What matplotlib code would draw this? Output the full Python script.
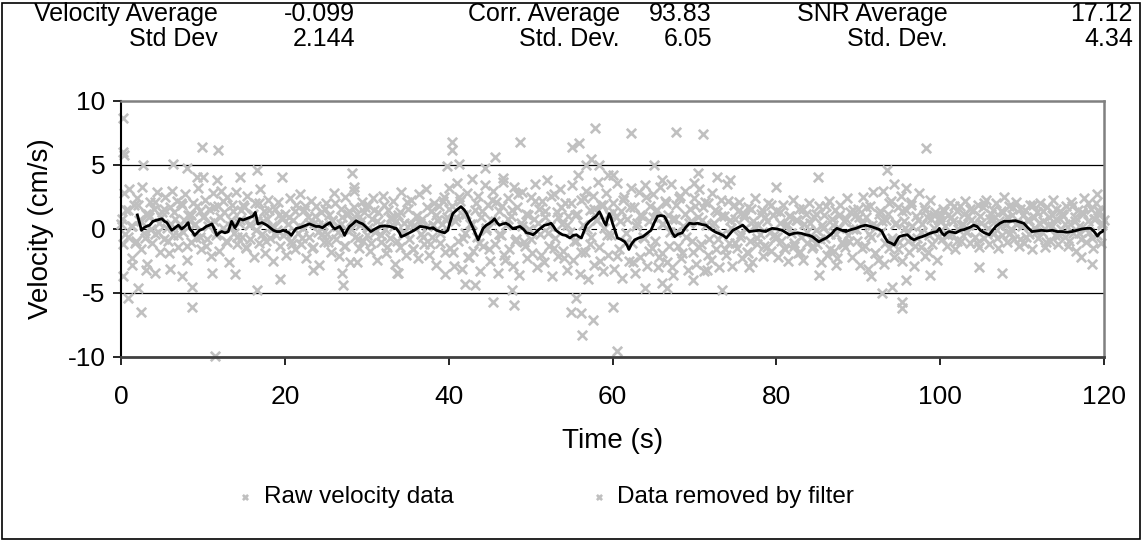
import numpy as np
import matplotlib
matplotlib.use("Agg")
import matplotlib.pyplot as plt
from matplotlib.patches import Rectangle

plt.rcParams['font.family'] = ['Liberation Sans', 'DejaVu Sans']
plt.rcParams['axes.unicode_minus'] = False

# ---------------- data ----------------
raw_dt = 0.2  # sampling interval of raw velocity (s)
raw_v = [
    0.4, -1.2, 2.8, 1.5, -0.6, 3.1, 0.2, -2.3, 1.9, -0.9, 2.4, 0.7, -1.6, 3.3, -0.3, 1.2, -2.7, 0.9, 2.1, -1.1, 1.6, -0.4, 2.9, 0.5, -1.8,
    1.3, -0.8, 2.5, 0.1, -1.9, 1.7, 3.0, -0.5, 0.8, 2.2, -1.4, 0.3, 1.9, -0.2, 2.7, -2.4, 1.1, 0.6, -1.0, 2.0, 0.4, -0.7, 3.2, 1.4, -1.6,
    0.9, 2.3, -1.3, 0.2, 1.6, -2.1, 2.8, 0.6, -0.5, 1.8, -1.7, 3.0, 0.1, 1.3, -0.9, 2.5, -2.6, 0.7, 1.9, -0.3, 2.9, -1.2, 0.5, 1.5, -0.6,
    1.7, -1.5, 2.6, 0.3, -0.8, 1.1, -2.2, 2.0, 0.6, -1.1, 3.1, -0.4, 1.4, -1.9, 0.8, 2.3, -0.7, 0.2, -2.5, 1.6, -0.1, 2.1, -1.3, 0.9, -0.5,
    1.2, -2.0, 0.4, 2.4, -0.9, 0.7, -1.6, 1.9, -0.3, 2.7, -1.2, 0.1, 1.5, -2.3, 0.9, -0.6, 2.2, -1.4, 0.5, 1.8, -0.2, -2.8, 1.3, 0.3, -1.0,
    2.0, -0.4, 1.1, -1.8, 0.6, 2.8, -0.8, 0.2, -2.1, 1.6, 0.9, -1.3, 2.5, -0.1, 1.4, -2.6, 0.7, 3.0, -0.6, 1.2, -1.5, 0.3, 2.1, -0.9, 1.7,
    -0.5, 1.9, -1.7, 0.8, 2.4, -0.2, -2.4, 1.3, 0.4, -1.0, 2.6, 0.0, -1.9, 1.5, -0.7, 0.9, 2.2, -2.7, 0.6, 1.1, -1.4, 2.9, -0.3, 0.5, -2.0,
    1.6, -0.8, 2.3, -1.6, 0.3, 1.0, -2.3, 2.7, -0.4, 0.8, -1.2, 3.1, 0.2, -2.0, 1.4, -0.6, 2.0, -2.8, 0.7, 1.8, -1.1, 0.4, 2.5, -1.8, 0.9,
    3.2, -1.5, 1.8, -2.9, 0.6, 3.6, -0.9, 2.2, -3.1, 1.1, -0.3, 2.8, -2.2, 0.4, 3.9, -1.7, 1.5, -0.6, 2.6, -3.3, 0.9, -1.3, 3.4, -0.1, 1.9,
    -2.5, 0.7, 3.0, -1.2, 2.1, -3.4, 1.4, -0.5, 3.7, -2.0, 0.3, 2.4, -1.6, 1.0, -2.9, 3.3, -0.8, 1.7, -3.6, 0.5, 2.9, -1.0, 1.2, -2.3, 0.0,
    2.5, -1.9, 0.8, 3.5, -3.0, 1.6, -0.4, 2.2, -2.6, 0.9, 3.8, -1.3, 0.2, -3.7, 2.7, -0.7, 1.3, -2.1, 3.1, 0.4, -1.7, 2.0, -3.2, 1.0, -0.2,
    3.4, -2.4, 1.1, -0.9, 4.2, -3.5, 2.3, 0.3, -1.8, 3.0, -3.9, 1.5, -0.6, 2.6, -2.8, 0.7, 3.7, -1.4, 1.9, -3.3, 0.1, 2.8, -2.0, 1.2, -0.5,
    2.0, -3.1, 0.9, 3.6, -1.6, 1.4, -3.8, 2.5, -0.3, 0.8, -2.5, 3.2, -1.1, 1.7, -3.4, 0.5, 2.9, -2.2, 1.0, -0.7, 3.4, -2.9, 0.6, 1.8, -1.5,
    2.7, -0.9, 1.5, -3.0, 3.3, -1.9, 0.4, 2.2, -2.6, 1.1, -0.2, 3.5, -3.6, 0.8, 1.9, -1.3, 2.6, -2.3, 0.2, 3.0, -0.6, -3.2, 1.6, 0.6, -1.8,
    2.4, -2.7, 0.9, 3.1, -1.2, 1.7, -3.3, 0.3, 2.0, -0.8, -2.4, 2.8, 0.5, -1.6, 1.3, -3.0, 2.3, -0.4, 1.0, -2.0, 3.5, -1.1, 0.7, -2.9, 1.9,
    0.8, -1.5, 2.1, -0.6, -2.3, 1.2, 0.1, -1.8, 1.7, -0.9, -2.6, 0.6, 2.4, -1.2, 0.3, -0.4, 1.5, -2.1, 0.9, -1.4, 2.0, -0.2, -1.7, 1.1, -0.7,
    1.4, -2.2, 0.5, -0.9, 1.9, -1.6, 0.2, -2.5, 1.0, -0.3, 2.3, -1.3, 0.7, -1.9, 1.6, -0.6, -2.4, 0.4, 1.2, -1.1, 2.0, -0.8, -1.5, 0.9, -0.1,
    -1.2, 1.8, -2.6, 0.3, 1.1, -0.7, -2.0, 2.2, -0.4, 0.8, -1.7, 1.5, -2.3, 0.1, 1.9, -1.0, 0.6, -1.4, 2.4, -0.5, 1.3, -2.2, 0.0, 1.0, -0.9,
    1.6, -2.8, 0.4, 2.5, -1.3, 0.9, -3.1, 1.8, -0.6, 2.9, -1.9, 0.2, -2.4, 1.4, -0.2, 3.0, -2.7, 0.7, 1.2, -1.5, 2.2, -0.9, -2.2, 0.5, 1.7,
    -1.0, 2.6, -2.5, 0.6, 1.5, -0.3, -1.8, 2.1, 0.2, -2.9, 1.0, -0.7, 2.8, -1.4, 0.4, 1.7, -2.1, 0.9, -0.5, 2.3, -1.2, 0.1, 1.3, -2.4, 0.7,
    0.9, -0.8, 1.6, 0.2, -1.3, 1.1, 2.0, -0.4, 0.6, -1.6, 1.4, 0.0, 1.8, -0.9, 0.4, 2.2, -0.2, 1.0, -1.1, 0.7, 1.5, -0.6, 0.3, 1.9, -1.4,
    0.5, 1.7, -0.7, 2.3, 0.1, -1.2, 1.2, 0.8, -0.3, 2.0, -1.5, 0.6, 1.4, -0.5, 2.5, 0.3, -1.0, 1.8, 0.0, 1.1, -0.8, 2.1, 0.4, -1.3, 1.6,
    0.2, -1.1, 1.5, 0.7, -0.4, 1.9, -1.6, 0.9, 0.1, 1.3, -0.7, 2.0, -0.2, 0.6, -1.4, 1.7, 0.3, -0.9, 1.1, 2.3, -0.5, 0.8, -1.2, 1.4, 0.0,
    1.0, -0.6, 1.8, -1.3, 0.4, 2.1, -0.3, 0.9, -1.7, 1.5, 0.2, -0.8, 1.2, 2.4, -1.0, 0.6, -0.2, 1.6, -1.5, 0.8, 2.0, -0.5, 1.3, -1.1, 0.5,
    0.7,
]

# second interleaved raw sampling (offset 0.1 s, every 0.4 s)
core_t0, core_dt = 0.1, 0.4
core_v = [
    0.8, -0.4, 1.5, 0.2, -1.1, 1.9, 0.6, -0.7, 1.2, 0.0, 2.1, -0.2, 0.9, 1.6, -0.9, 0.4, 1.3, -0.5, 2.0, 0.7, -1.3, 1.1, 0.3, 1.8, -0.6,
    1.0, -0.8, 0.5, 1.7, -0.3, 0.9, 2.2, -1.0, 0.2, 1.4, -0.6, 0.7, 1.9, -1.4, 0.4, 1.2, -0.1, 2.0, 0.6, -0.9, 1.5, 0.1, -0.5, 1.1, 0.8,
    -0.3, 0.9, -1.2, 1.4, 0.2, -0.7, 1.8, 0.5, -1.5, 1.0, 0.3, -0.4, 1.6, -1.0, 0.7, 2.0, -0.2, 0.4, -1.3, 1.2, 0.0, 1.7, -0.8, 0.6, 1.3,
    0.1, -1.1, 1.5, 0.6, -0.5, 1.9, -1.4, 0.8, 0.2, -0.9, 1.3, -0.2, 2.1, 0.4, -1.6, 1.0, 0.5, -0.6, 1.7, -1.2, 0.3, 1.1, -0.3, 2.2, 0.7,
    1.6, -1.8, 0.9, 2.5, -0.7, 1.2, -2.2, 0.4, 2.0, -1.1, 1.4, 0.1, -1.6, 2.3, 0.6, -0.4, 1.8, -2.4, 0.8, 1.5, -0.9, 2.7, 0.2, -1.3, 1.1,
    -0.8, 2.2, 0.5, -2.0, 1.4, -0.3, 2.6, -1.5, 0.9, 1.7, -2.3, 0.3, 2.0, -0.9, 1.2, -1.8, 2.4, 0.0, -1.2, 1.6, 0.7, -2.5, 1.9, -0.5, 1.0,
    1.3, -2.1, 0.6, 2.3, -1.0, 1.7, -2.6, 0.2, 1.1, -0.6, 2.5, -1.7, 0.9, 1.5, -2.2, 0.4, 2.0, -1.3, 0.8, -0.2, 2.4, -1.9, 1.2, 0.5, -0.9,
    1.8, -1.4, 0.7, 2.1, -2.0, 0.3, 1.5, -0.8, 1.0, -1.6, 2.2, 0.1, -1.1, 1.4, -0.4, 0.9, -1.9, 1.6, 0.2, -0.7, 1.2, -1.3, 0.6, 1.9, -0.5,
    -0.6, 1.3, -1.5, 0.4, 1.0, -1.1, 0.7, -1.8, 1.6, -0.2, 0.5, -1.3, 1.2, -0.8, 0.1, 1.8, -1.6, 0.3, -0.4, 1.1, -1.2, 0.8, -0.9, 1.5, 0.0,
    0.9, -1.5, 1.7, -0.4, 0.3, -1.9, 1.2, 0.6, -1.1, 2.0, -0.7, 0.4, -1.6, 1.4, 0.1, -0.9, 1.9, -1.3, 0.7, -0.2, 1.5, -1.8, 0.8, 1.1, -0.6,
    0.6, 1.4, -0.5, 0.9, 1.8, -0.9, 0.3, 1.2, -0.2, 1.6, 0.5, -1.1, 1.0, 2.0, -0.4, 0.8, 1.5, -0.7, 0.2, 1.3, 0.9, -0.3, 1.7, 0.4, -0.8,
    1.1, -0.6, 0.7, 1.9, -0.2, 0.5, 1.4, -1.0, 0.9, 0.2, 1.6, -0.5, 1.2, 0.4, -0.9, 1.8, 0.6, -0.3, 1.3, 0.0, 2.0, -0.7, 0.8, 1.5, 0.3,
]

removed_t = [0.2, 0.2, 0.4, 9.9, 11.8, 2.7, 6.3, 8.0, 9.3, 10.0, 11.7, 14.5, 16.6, 19.6, 28.2, 28.5,
             40.4, 40.4, 39.8, 41.3, 44.4, 45.6, 48.7, 46.6, 55.1, 55.9, 57.9, 57.4, 56.8, 58.4, 59.4,
             62.2, 67.7, 71.1, 98.3, 65.1, 60.0, 66.1, 70.4, 70.0, 72.8, 74.3, 85.1, 93.5, 94.4, 95.8,
             80.0, 119.1,
             2.4, 0.9, 2.1, 8.7, 8.7, 16.6, 27.1, 19.4, 13.9, 7.4, 6.0, 3.1, 4.1, 1.3, 0.3, 23.4, 27.0,
             28.8, 33.7, 11.1, 11.5, 60.5, 56.3, 55.6, 54.9, 56.1, 57.6, 60.0, 45.4, 48.0, 47.7, 42.0,
             43.2, 33.8, 39.6, 73.4, 66.6, 92.9, 95.4, 95.4, 95.8, 94.1, 91.6, 69.8, 76.7, 85.2, 87.3,
             98.7, 67.3, 71.5, 104.8, 107.6, 118.5, 117.2, 64.0, 66.0]
removed_v = [8.7, 6.0, 5.8, 6.4, 6.2, 5.0, 5.1, 4.8, 4.1, 4.1, 3.8, 4.1, 4.6, 4.1, 4.4, 3.3,
             6.8, 6.2, 4.9, 5.1, 4.8, 5.6, 6.8, 4.0, 6.4, 6.7, 7.9, 5.5, 5.0, 5.0, 4.2,
             7.5, 7.6, 7.4, 6.3, 5.0, 4.2, 3.8, 4.4, 3.6, 4.1, 3.8, 4.1, 4.6, 3.5, 3.2,
             3.3, 2.7,
             -6.5, -5.4, -4.6, -6.1, -4.5, -4.8, -4.4, -3.9, -3.5, -3.7, -3.1, -3.2, -3.4, -2.8, -3.7, -3.2, -3.4,
             -2.6, -3.4, -3.4, -9.9, -9.5, -8.3, -5.4, -6.5, -6.6, -7.1, -6.1, -5.7, -5.9, -4.8, -4.3,
             -4.4, -3.4, -3.5, -4.8, -4.6, -5.0, -5.7, -6.2, -4.0, -4.5, -3.7, -4.0, -3.0, -3.6, -2.8,
             -3.6, -3.0, -3.2, -3.0, -3.4, -2.7, -2.2, -4.6, -4.2]

line_t = [2.0, 2.3, 2.5, 2.8, 3.1, 3.5, 3.9, 4.4, 5.0, 5.3, 5.6, 5.9, 6.2, 6.6, 7.0, 7.4, 7.8, 8.2, 8.4, 8.7,
          9.0, 9.3, 9.6, 10.0, 10.4, 10.8, 11.1, 11.4, 11.7, 12.0, 12.3, 12.7, 13.1, 13.5, 13.9, 14.2, 14.5,
          14.9, 15.3, 15.7, 16.1, 16.4, 16.7, 17.2, 17.8, 18.2, 18.6, 19.0, 19.4, 19.8, 20.2, 20.5, 20.8,
          21.1, 21.4, 21.8, 22.2, 22.6, 23.0, 23.4, 23.8, 24.2, 24.6, 25.0, 25.5, 25.8, 26.1, 26.4, 26.7,
          27.0, 27.3, 27.6, 27.9, 28.3, 28.7, 29.1, 29.5, 30.0, 30.5, 31.0, 31.6, 32.2, 32.8, 33.3, 33.6,
          34.0, 34.2, 34.6, 35.2, 35.8, 36.5, 37.1, 37.7, 38.1, 38.5, 39.0, 39.5, 39.9, 40.2, 40.5, 41.0,
          41.5, 41.9, 42.2, 42.6, 43.0, 43.3, 43.6, 43.9, 44.2, 44.6, 45.0, 45.3, 45.6, 45.9, 46.2, 46.6,
          47.0, 47.4, 47.8, 48.2, 48.7, 49.1, 49.5, 49.9, 50.3, 50.6, 50.9, 51.3, 51.7, 52.1, 52.5, 52.8,
          53.1, 53.5, 53.9, 54.3, 54.8, 55.2, 55.6, 55.9, 56.2, 56.5, 56.8, 57.2, 57.6, 58.0, 58.4, 58.6,
          58.8, 59.0, 59.2, 59.4, 59.6, 59.8, 60.0, 60.3, 60.6, 61.0, 61.5, 61.8, 62.0, 62.3, 62.7, 63.2,
          63.7, 64.2, 64.7, 65.1, 65.5, 65.9, 66.3, 66.5, 67.0, 67.3, 67.6, 68.0, 68.5, 68.9, 69.4, 69.9,
          70.4, 70.9, 71.4, 71.8, 72.2, 72.6, 73.0, 73.5, 73.9, 74.3, 74.7, 75.3, 75.9, 76.3, 76.7, 77.3,
          77.9, 78.3, 78.7, 79.1, 79.5, 80.1, 80.7, 81.2, 81.6, 82.1, 82.6, 83.1, 83.6, 84.0, 84.4, 84.8,
          85.2, 85.6, 86.1, 86.5, 86.8, 87.1, 87.4, 88.0, 88.5, 89.1, 89.7, 90.3, 90.9, 91.5, 92.2, 92.6,
          92.9, 93.2, 93.6, 94.0, 94.4, 94.7, 95.0, 95.5, 96.0, 96.4, 96.8, 97.3, 97.8, 98.2, 98.7, 99.2,
          99.6, 99.9, 100.2, 100.5, 100.8, 101.1, 101.5, 101.9, 102.5, 102.9, 103.3, 103.7, 104.1, 104.5,
          104.9, 105.4, 106.0, 106.4, 106.8, 107.3, 107.8, 108.5, 109.2, 109.7, 110.2, 110.7, 111.2, 111.8,
          112.4, 113.0, 113.7, 114.3, 114.9, 115.5, 116.1, 116.7, 117.3, 117.9, 118.4, 118.8, 119.2, 119.5,
          119.8, 120.0]
line_v = [1.1, 0.4, -0.1, 0.1, 0.2, 0.3, 0.6, 0.7, 0.8, 0.6, 0.5, 0.2, -0.1, 0.1, 0.3, 0.0, 0.2, 0.5, 0.0, -0.2,
          -0.5, -0.3, -0.1, 0.0, 0.2, 0.3, 0.4, 0.0, -0.5, -0.3, -0.2, -0.3, -0.2, 0.6, 0.1, 0.4, 0.8,
          0.7, 0.8, 0.9, 1.0, 1.3, 0.4, 0.5, 0.3, 0.1, -0.1, -0.2, -0.2, -0.1, -0.2, -0.3, -0.5,
          -0.2, 0.05, 0.1, 0.2, 0.3, 0.4, 0.3, 0.2, 0.2, 0.1, 0.3, 0.5, 0.2, 0.0, 0.1, 0.2,
          -0.1, -0.5, -0.1, 0.2, 0.4, 0.65, 0.5, 0.4, 0.1, -0.2, 0.0, 0.2, 0.25, 0.2, 0.1, 0.05,
          -0.3, -0.6, -0.5, -0.3, -0.1, 0.2, 0.15, 0.05, 0.1, -0.1, -0.2, -0.3, -0.1, 0.6, 1.2, 1.5,
          1.75, 1.5, 1.2, 0.6, 0.05, -0.4, -0.85, -0.4, 0.05, 0.3, 0.45, 0.6, 0.8, 0.5, 0.3, 0.4,
          0.45, 0.3, 0.05, 0.1, 0.2, 0.0, -0.3, -0.35, -0.45, -0.3, -0.1, 0.1, 0.3, 0.35, 0.45, 0.2,
          -0.1, -0.3, -0.45, -0.5, -0.7, -0.5, -0.45, -0.6, -0.7, -0.2, 0.3, 0.6, 0.8, 1.0, 1.35, 1.1,
          0.8, 0.5, 0.3, 0.8, 1.2, 0.9, 0.45, -0.1, -0.7, -0.8, -1.0, -1.3, -1.6, -1.2, -0.85, -0.7,
          -0.6, -0.35, -0.1, 0.5, 1.0, 1.05, 1.0, 0.8, 0.1, -0.3, -0.6, -0.4, -0.3, 0.1, 0.45, 0.4,
          0.45, 0.35, 0.3, 0.1, -0.1, -0.25, -0.35, -0.5, -0.7, -0.4, -0.1, 0.1, 0.3, 0.05, -0.2, -0.15,
          -0.1, -0.15, -0.2, -0.05, 0.05, 0.0, -0.1, -0.3, -0.45, -0.35, -0.3, -0.35, -0.45, -0.5, -0.6, -0.8,
          -1.0, -0.85, -0.7, -0.5, -0.35, -0.1, 0.05, -0.1, -0.2, -0.05, 0.05, 0.2, 0.3, 0.2, 0.05, -0.05,
          -0.2, -0.6, -1.0, -1.1, -1.25, -0.9, -0.6, -0.5, -0.45, -0.7, -0.85, -0.7, -0.6, -0.5, -0.35, -0.25,
          -0.2, 0.05, -0.3, -0.5, -0.3, -0.2, -0.25, -0.3, -0.1, -0.05, 0.05, 0.15, 0.3, 0.2,
          -0.1, -0.3, -0.45, -0.1, 0.2, 0.45, 0.6, 0.6, 0.65, 0.55, 0.45, 0.1, -0.2, -0.15,
          -0.1, -0.15, -0.1, -0.2, -0.2, -0.25, -0.2, -0.1, 0.0, 0.05, 0.05, -0.2, -0.55, -0.3,
          -0.2, -0.1]

x_ticks = [0, 20, 40, 60, 80, 100, 120]
y_ticks = [-10, -5, 0, 5, 10]
stat_labels = [["Velocity Average", "Std Dev"], ["Corr. Average", "Std. Dev."], ["SNR Average", "Std. Dev."]]
stat_values = [["-0.099", "2.144"], ["93.83", "6.05"], ["17.12", "4.34"]]
legend_labels = ["Raw velocity data", "Data removed by filter"]

# ---------------- figure ----------------
W, H = 1143, 541
fig = plt.figure(figsize=(W / 100, H / 100), dpi=100)
fig.patch.set_facecolor('white')
fig.patches.append(Rectangle((2 / W, 2 / H), (W - 5) / W, (H - 5) / H, transform=fig.transFigure,
                             fill=False, ec='black', lw=1.2))

ax = fig.add_axes([121 / W, 1 - 357 / H, 983 / W, 256 / H])
FS_HEAD = 18
FS_TICK = 19
FS_TITLE = 20
FS_LEG = 17.5
gray = '#C0C0C0'

raw_t = np.arange(len(raw_v)) * raw_dt
core_t = core_t0 + np.arange(len(core_v)) * core_dt
all_raw_t = np.concatenate([raw_t, core_t])
all_raw_v = np.concatenate([raw_v, core_v])
h_raw = ax.scatter(all_raw_t, all_raw_v, marker='x', s=46, linewidths=1.9, color=gray, zorder=2, clip_on=False)
h_rem = ax.scatter(removed_t, removed_v, marker='x', s=46, linewidths=1.9, color=gray, zorder=2, clip_on=False)
ax.plot(line_t, line_v, color='black', lw=2.0, zorder=3)

for yy in (5, -5):
    ax.axhline(yy, color='black', lw=0.9, zorder=1)
ax.axhline(0, color='black', lw=0.8, ls=(0, (5, 4)), zorder=1)

ax.set_xlim(0, 120)
ax.set_ylim(-10, 10)
ax.set_xticks(x_ticks)
ax.set_yticks(y_ticks)
ax.tick_params(axis='both', direction='out', length=6, width=1.2, labelsize=FS_TICK, pad=5, color='black')
ax.tick_params(axis='x', pad=14)
ax.spines['left'].set_color('black')
ax.spines['left'].set_linewidth(1.5)
ax.spines['bottom'].set_color('#404040')
ax.spines['bottom'].set_linewidth(2.0)
ax.spines['top'].set_color('#808080')
ax.spines['top'].set_linewidth(1.8)
ax.spines['right'].set_color('#808080')
ax.spines['right'].set_linewidth(1.8)

ax.set_xlabel("Time (s)", fontsize=FS_TITLE, labelpad=14)
ax.set_ylabel("Velocity (cm/s)", fontsize=FS_TITLE, labelpad=10)

# header statistics
label_x = [218, 620, 948]
value_x = [355, 712, 1133]
row_y = [14, 39]
for i in range(3):
    for r in range(2):
        fig.text(label_x[i] / W, 1 - row_y[r] / H, stat_labels[i][r], ha='right', va='center', fontsize=FS_HEAD)
        fig.text(value_x[i] / W, 1 - row_y[r] / H, stat_values[i][r], ha='right', va='center', fontsize=FS_HEAD)

leg = fig.legend([h_raw, h_rem], legend_labels, loc='center', bbox_to_anchor=(545 / W, 1 - 497 / H),
                 ncol=2, frameon=False, fontsize=FS_LEG, markerscale=0.55, handlelength=0.8,
                 handletextpad=0.35, columnspacing=5.6)

fig.savefig("out.png", dpi=100)
